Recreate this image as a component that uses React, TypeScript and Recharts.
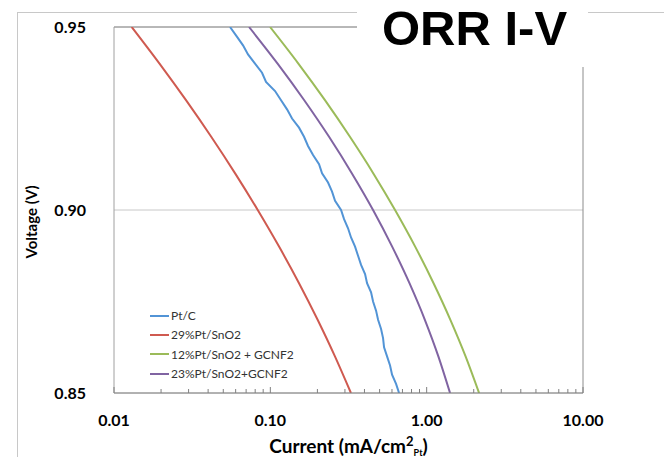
import { LineChart, Line, XAxis, YAxis, CartesianGrid, Legend, ReferenceLine, Label } from 'recharts';

// voltage levels shared by the smooth curves (V)
const voltages = [0.95, 0.94, 0.93, 0.92, 0.91, 0.9, 0.89, 0.88, 0.87, 0.86, 0.85];

// current densities (mA/cm2 Pt)
const ptSnO2_29 = [0.01298, 0.01955, 0.02888, 0.04187, 0.05954, 0.08307, 0.1137, 0.1526, 0.2007, 0.259, 0.3278];
const ptSnO2Gcnf_12 = [0.0996, 0.1511, 0.2236, 0.323, 0.456, 0.6278, 0.8442, 1.107, 1.418, 1.774, 2.164];
const ptSnO2Gcnf_23 = [0.07306, 0.1113, 0.1648, 0.2375, 0.3327, 0.4541, 0.6016, 0.7762, 0.9738, 1.188, 1.411];

// Pt/C is a measured (noisy) trace, so it gets a denser set of points
const ptcVoltages = [
  0.95, 0.9475, 0.945, 0.9425, 0.94, 0.9375, 0.935, 0.9325, 0.93, 0.9275, 0.925, 0.9225, 0.92, 0.9175,
  0.915, 0.9125, 0.91, 0.9075, 0.905, 0.9025, 0.9, 0.8975, 0.895, 0.8925, 0.89, 0.8875, 0.885, 0.8825,
  0.88, 0.8775, 0.875, 0.8725, 0.87, 0.8675, 0.865, 0.8625, 0.86, 0.8575, 0.855, 0.8525, 0.85,
];
const ptcCurrent = [
  0.05523, 0.06079, 0.06688, 0.07199, 0.07982, 0.08849, 0.09386, 0.1072, 0.1171, 0.1279, 0.1377, 0.1526,
  0.1643, 0.1742, 0.1876, 0.2049, 0.2142, 0.234, 0.2482, 0.2594, 0.2834, 0.2962, 0.3141, 0.3283, 0.3483,
  0.364, 0.3805, 0.4036, 0.4156, 0.4409, 0.4541, 0.4746, 0.4888, 0.5109, 0.5261, 0.5339, 0.558, 0.5832,
  0.6007, 0.6372, 0.6659,
];

const xTicks = [
  0.01, 0.02, 0.03, 0.04, 0.05, 0.06, 0.07, 0.08, 0.09,
  0.1, 0.2, 0.3, 0.4, 0.5, 0.6, 0.7, 0.8, 0.9,
  1, 2, 3, 4, 5, 6, 7, 8, 9, 10,
];
const majorTicks = [0.01, 0.1, 1, 10];
const yTicks = [0.85, 0.9, 0.95];

const toPoints = (xs: number[], vs: number[]) => xs.map((x, i) => ({ x, v: vs[i] }));

const series = [
  { name: 'Pt/C', color: '#5294d6', type: 'linear', data: toPoints(ptcCurrent, ptcVoltages) },
  { name: '29%Pt/SnO2', color: '#cf5a50', type: 'monotone', data: toPoints(ptSnO2_29, voltages) },
  { name: '12%Pt/SnO2 + GCNF2', color: '#9bbb59', type: 'monotone', data: toPoints(ptSnO2Gcnf_12, voltages) },
  { name: '23%Pt/SnO2+GCNF2', color: '#8064a2', type: 'monotone', data: toPoints(ptSnO2Gcnf_23, voltages) },
];

const labelFont = 'Lato, "Open Sans", sans-serif';

const XTick = ({ x, y, payload }: any) => {
  const v = payload.value;
  const major = majorTicks.some(m => Math.abs(v - m) < 1e-9);
  return (
    <g>
      <line x1={x} x2={x} y1={y} y2={y - (major ? 6 : 4)} stroke="#808080" />
      {major && (
        <text x={x} y={y + 33} textAnchor="middle" fontFamily={labelFont} fontWeight={700} fontSize={16} fill="#000">
          {v.toFixed(2)}
        </text>
      )}
    </g>
  );
};

const XLabel = ({ viewBox }: any) => (
  <text
    x={viewBox.x + viewBox.width / 2}
    y={viewBox.y + 60}
    textAnchor="middle"
    fontFamily={labelFont}
    fontWeight={700}
    fontSize={19}
    fill="#000"
  >
    Current (mA/cm
    <tspan dy={-7} fontSize={13}>2</tspan>
    <tspan dy={10} fontSize={9}>Pt</tspan>
    <tspan dy={-3}>)</tspan>
  </text>
);

const YLabel = () => (
  <text
    x={31}
    y={222}
    transform="rotate(-90, 31, 222)"
    textAnchor="middle"
    dominantBaseline="central"
    fontFamily={labelFont}
    fontWeight={700}
    fontSize={15}
    fill="#000"
  >
    Voltage (V)
  </text>
);

const LegendBox = () => (
  <div style={{ fontFamily: labelFont, fontSize: 12, color: '#333' }}>
    {series.map(s => (
      <div key={s.name} style={{ display: 'flex', alignItems: 'center', height: 19.3 }}>
        <span style={{ display: 'inline-block', width: 19, height: 2, background: s.color, marginRight: 2 }} />
        <span>{s.name}</span>
      </div>
    ))}
  </div>
);

const App = () => {
  return (
    <div style={{ position: 'absolute', left: 0, top: 0, width: 664, height: 457, background: '#fff', overflow: 'hidden' }}>
      {/* outer chart-area frame */}
      <div
        style={{
          position: 'absolute',
          left: 17,
          top: 12,
          width: 700,
          height: 500,
          borderLeft: '1px solid #c8c8c8',
          borderTop: '1px solid #c8c8c8',
        }}
      />
      <div style={{ position: 'absolute', left: 0, top: 0 }}>
        <LineChart width={664} height={457} margin={{ top: 27, right: 81, bottom: 0, left: 0 }}>
          <CartesianGrid horizontal vertical={false} stroke="#c8c8c8" />
          <XAxis
            dataKey="x"
            type="number"
            scale="log"
            domain={[0.01, 10]}
            allowDataOverflow
            ticks={xTicks}
            interval={0}
            height={64}
            tickSize={0}
            tickMargin={0}
            tickLine={false}
            axisLine={{ stroke: '#808080' }}
            tick={<XTick />}
          >
            <Label content={<XLabel />} />
          </XAxis>
          <YAxis
            dataKey="v"
            type="number"
            domain={[0.85, 0.95]}
            allowDataOverflow
            ticks={yTicks}
            interval={0}
            width={114}
            tickSize={0}
            tickMargin={28}
            tickLine={false}
            axisLine={{ stroke: '#a0a0a0' }}
            tickFormatter={(v: number) => v.toFixed(2)}
            tick={{ fill: '#000', fontFamily: labelFont, fontWeight: 700, fontSize: 16 }}
          >
            <Label content={<YLabel />} />
          </YAxis>
          <ReferenceLine y={0.95} stroke="#8c8c8c" />
          <ReferenceLine x={10} stroke="#8c8c8c" />
          {series.map(s => (
            <Line
              key={s.name}
              data={s.data}
              dataKey="v"
              name={s.name}
              type={s.type as any}
              stroke={s.color}
              strokeWidth={2}
              dot={false}
              activeDot={false}
              isAnimationActive={false}
            />
          ))}
          <Legend
            layout="horizontal"
            verticalAlign="middle"
            align="center"
            content={<LegendBox />}
            wrapperStyle={{ left: 150, top: 306, width: 'auto' }}
          />
        </LineChart>
      </div>
      {/* title box sits over the top-right corner of the plot */}
      <div style={{ position: 'absolute', left: 357, top: 0, width: 231, height: 67, background: '#fff' }}>
        <div
          style={{
            position: 'absolute',
            left: 25,
            top: -2,
            fontFamily: '"Liberation Sans", Arial, sans-serif',
            fontWeight: 700,
            fontSize: 49,
            lineHeight: '60px',
            color: '#000',
            whiteSpace: 'nowrap',
          }}
        >
          ORR I-V
        </div>
      </div>
    </div>
  );
};

export default App;
